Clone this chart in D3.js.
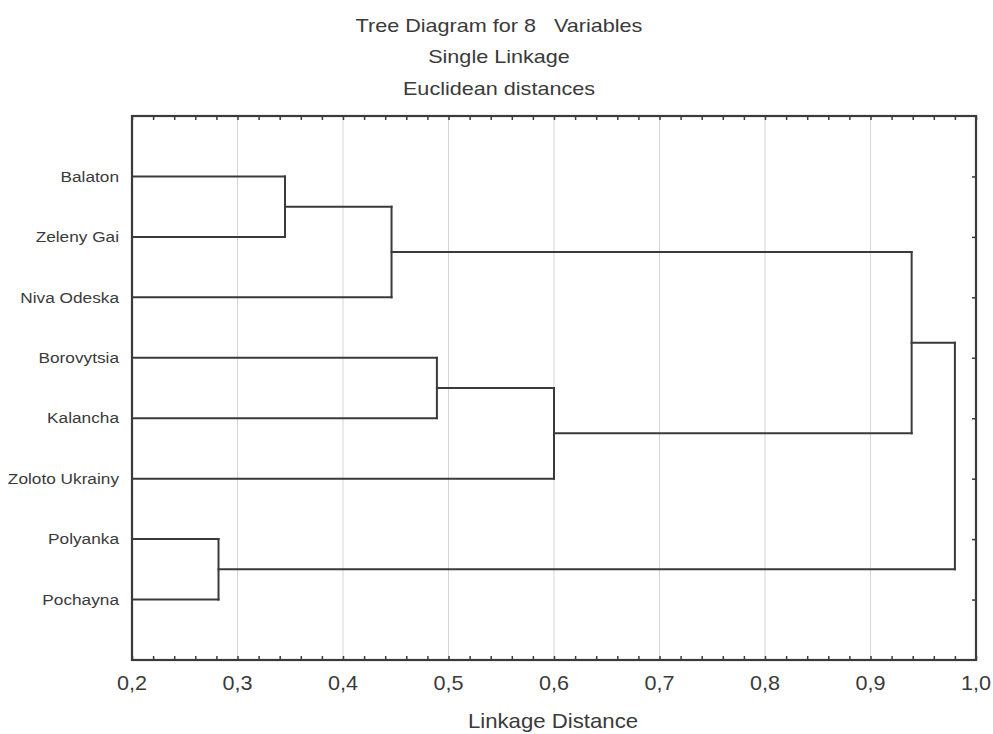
<!DOCTYPE html>
<html>
<head>
<meta charset="utf-8">
<script src="https://cdn.jsdelivr.net/npm/d3@7"></script>
<style>
  html, body { margin: 0; padding: 0; background: #fff; }
  svg { display: block; font-family: "Liberation Sans", Arial, sans-serif; }
</style>
</head>
<body>
<svg id="chart" width="993" height="734"></svg>
<script>
// ---- data ----
const titleLines = ["Tree Diagram for 8   Variables", "Single Linkage", "Euclidean distances"];
const xAxisTitle = "Linkage Distance";
const leafNames = ["Balaton", "Zeleny Gai", "Niva Odeska", "Borovytsia", "Kalancha", "Zoloto Ukrainy", "Polyanka", "Pochayna"];
// merge steps: cluster id, the two joined members, linkage distance
const mergeIds = ["C1", "C2", "C3", "C4", "C5", "C6", "C7"];
const mergeLeft = ["Balaton", "C1", "Borovytsia", "C3", "C2", "Polyanka", "C5"];
const mergeRight = ["Zeleny Gai", "Niva Odeska", "Kalancha", "Zoloto Ukrainy", "C4", "Pochayna", "C6"];
const mergeDistances = [0.345, 0.446, 0.489, 0.600, 0.939, 0.282, 0.980];
const xTicks = [0.2, 0.3, 0.4, 0.5, 0.6, 0.7, 0.8, 0.9, 1.0];
const xDomain = [0.2, 1.0];

// ---- layout ----
(function () {
const svg = d3.select("#chart");
const pL = 132, pR = 976, pT = 116, pB = 660;
const ink = "#3a3a3a";

const x = d3.scaleLinear().domain(xDomain).range([pL, pR]);
const y = d3.scalePoint().domain(leafNames).range([pT, pB]).padding(1);

// title
svg.append("g").selectAll("text").data(titleLines).join("text")
  .attr("transform", (d, i) => `translate(499,${31.5 + i * 31.5}) scale(1.2,1)`)
  .attr("text-anchor", "middle")
  .attr("font-size", 18).attr("fill", ink)
  .style("white-space", "pre")
  .text(d => d);

// grid lines
svg.append("g").selectAll("line").data(xTicks.slice(1, -1)).join("line")
  .attr("x1", d => x(d)).attr("x2", d => x(d))
  .attr("y1", pT).attr("y2", pB)
  .attr("stroke", "#d6d6d6").attr("stroke-width", 1);

// minor ticks every 0.02
const minor = d3.range(0, 41).map(i => xDomain[0] + i * 0.02);
const bottomAxis = d3.axisBottom(x).tickValues(minor).tickSize(-4).tickFormat("");
const topAxis = d3.axisTop(x).tickValues(minor).tickSize(-4).tickFormat("");
const gb = svg.append("g").attr("transform", `translate(0,${pB})`).call(bottomAxis);
const gt = svg.append("g").attr("transform", `translate(0,${pT})`).call(topAxis);
[gb, gt].forEach(g => {
  g.select(".domain").remove();
  g.selectAll(".tick line").attr("stroke", ink).attr("stroke-width", 1.5);
});

// tick labels
svg.append("g").selectAll("text").data(xTicks).join("text")
  .attr("transform", d => `translate(${x(d)},${pB + 30}) scale(1.08,1)`)
  .attr("text-anchor", "middle")
  .attr("font-size", 20).attr("fill", ink)
  .text(d => d3.format(".1f")(d).replace(".", ","));

// axis title
svg.append("text").attr("transform", "translate(553,728) scale(1.11,1)")
  .attr("text-anchor", "middle").attr("font-size", 20).attr("fill", ink)
  .text(xAxisTitle);

// right-side ticks at leaves
const rightAxis = d3.axisLeft(y).tickSize(4).tickFormat("");
const gr = svg.append("g").attr("transform", `translate(${pR},0)`).call(rightAxis);
gr.select(".domain").remove();
gr.selectAll(".tick line").attr("stroke", ink).attr("stroke-width", 1.5);

// leaf labels
svg.append("g").selectAll("text").data(leafNames).join("text")
  .attr("transform", d => `translate(${pL - 13},${y(d)}) scale(1.15,1)`)
  .attr("dy", "0.35em").attr("text-anchor", "end")
  .attr("font-size", 15).attr("fill", ink)
  .text(d => d);

// dendrogram
const pos = {};
leafNames.forEach(n => { pos[n] = { h: xDomain[0], y: y(n) }; });
const segs = [];
mergeIds.forEach((id, i) => {
  const a = pos[mergeLeft[i]], b = pos[mergeRight[i]], h = mergeDistances[i];
  segs.push([a.h, a.y, h, a.y]);
  segs.push([b.h, b.y, h, b.y]);
  segs.push([h, a.y, h, b.y]);
  pos[id] = { h: h, y: (a.y + b.y) / 2 };
});
svg.append("g").selectAll("line").data(segs).join("line")
  .attr("x1", d => x(d[0])).attr("y1", d => d[1])
  .attr("x2", d => x(d[2])).attr("y2", d => d[3])
  .attr("stroke", ink).attr("stroke-width", 2).attr("stroke-linecap", "square");

// frame
svg.append("rect").attr("x", pL).attr("y", pT)
  .attr("width", pR - pL).attr("height", pB - pT)
  .attr("fill", "none").attr("stroke", ink).attr("stroke-width", 2.2);
})();
</script>
</body>
</html>
